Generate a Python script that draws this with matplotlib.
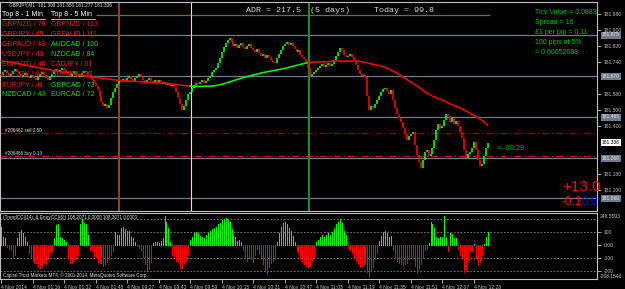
import matplotlib
matplotlib.use("Agg")
import matplotlib.pyplot as plt
import matplotlib.transforms as mtransforms
from matplotlib.lines import Line2D

W, H = 625, 289

# ---------------------------------------------------------------- data
# GBPJPY M1 closes, one per bar (16 bars per time label)
closes = [
    181.675, 181.690, 181.700, 181.685, 181.670, 181.680, 181.695, 181.705, 181.690, 181.680, 181.665, 181.675, 181.685, 181.670, 181.660, 181.675,
    181.670, 181.660, 181.650, 181.665, 181.680, 181.690, 181.675, 181.660, 181.650, 181.665, 181.680, 181.695, 181.705, 181.690, 181.700, 181.710,
    181.700, 181.690, 181.680, 181.670, 181.685, 181.695, 181.680, 181.665, 181.675, 181.685, 181.695, 181.690, 181.675, 181.660, 181.650, 181.635,
    181.620, 181.600, 181.570, 181.540, 181.520, 181.530, 181.510, 181.525, 181.560, 181.590, 181.610, 181.630, 181.650, 181.640, 181.655, 181.645,
    181.660, 181.670, 181.655, 181.645, 181.660, 181.670, 181.680, 181.665, 181.650, 181.640, 181.650, 181.660, 181.645, 181.635, 181.650, 181.640,
    181.650, 181.640, 181.630, 181.640, 181.625, 181.635, 181.620, 181.630, 181.615, 181.590, 181.560, 181.530, 181.500, 181.520, 181.550, 181.580,
    181.590, 181.610, 181.625, 181.635, 181.630, 181.640, 181.650, 181.635, 181.645, 181.660, 181.670, 181.690, 181.700, 181.710, 181.735, 181.760,
    181.790, 181.815, 181.835, 181.850, 181.860, 181.840, 181.820, 181.830, 181.810, 181.825, 181.835, 181.815, 181.805, 181.820, 181.830, 181.810,
    181.800, 181.790, 181.805, 181.785, 181.770, 181.780, 181.760, 181.775, 181.765, 181.750, 181.740, 181.735, 181.760, 181.780, 181.800, 181.820,
    181.830, 181.840, 181.825, 181.835, 181.820, 181.805, 181.790, 181.800, 181.775, 181.765, 181.755, 181.740, 181.710, 181.670, 181.680, 181.690,
    181.700, 181.710, 181.720, 181.730, 181.715, 181.725, 181.735, 181.720, 181.730, 181.750, 181.770, 181.790, 181.810, 181.800, 181.775, 181.765,
    181.770, 181.780, 181.765, 181.750, 181.725, 181.700, 181.680, 181.670, 181.675, 181.665, 181.570, 181.500, 181.520, 181.510, 181.530, 181.550,
    181.570, 181.590, 181.605, 181.610, 181.595, 181.580, 181.600, 181.550, 181.510, 181.480, 181.460, 181.440, 181.410, 181.380, 181.350, 181.370,
    181.380, 181.390, 181.325, 181.275, 181.240, 181.210, 181.250, 181.290, 181.300, 181.270, 181.280, 181.310, 181.350, 181.400, 181.430, 181.410,
    181.420, 181.450, 181.480, 181.470, 181.440, 181.460, 181.430, 181.445, 181.420, 181.390, 181.360, 181.300, 181.260, 181.280, 181.290, 181.310,
    181.340, 181.300, 181.250, 181.220, 181.230, 181.270, 181.310, 181.336,
]
first_open = 181.680

# moving average, read every 4 bars
ma_bars = list(range(0, 245, 4)) + [247]
ma_vals = [
    181.745, 181.740, 181.733, 181.725, 181.718, 181.710, 181.703, 181.695,
    181.688, 181.683, 181.675, 181.668, 181.663, 181.658, 181.653, 181.648,
    181.645, 181.643, 181.640, 181.638, 181.635, 181.633, 181.628, 181.623,
    181.620, 181.618, 181.619, 181.620, 181.628, 181.640, 181.653, 181.665,
    181.675, 181.685, 181.693, 181.700, 181.708, 181.718, 181.728, 181.738,
    181.740, 181.740, 181.743, 181.743, 181.745, 181.745, 181.740, 181.730,
    181.723, 181.710, 181.690, 181.665, 181.640, 181.615, 181.585, 181.565,
    181.550, 181.530, 181.515, 181.495, 181.473, 181.450, 181.423,
]
ma_green = (96, 156)

# TrendCCI histogram, one per bar
cci = [
    140, 60, 55, -15, -30, -35, -95, -75, 50, 100, 115, 90, 65, 20, -60, -90,
    -120, -135, -140, -170, -180, -165, -140, -145, -100, -60, -50, 50, 155, 165, 65, 50,
    40, 25, -100, -140, -130, -110, -105, -80, 165, 200, 170, 160, 80, -40, -45, -90,
    -95, -130, -140, -135, -160, -150, -130, -100, -80, -50, 100, 75, 80, 130, 140, 125,
    110, 105, 65, 55, 25, -10, -20, -40, -90, -150, -190, -185, -130, 15, 20, 25,
    15, 30, 50, 220, 180, 130, 25, -80, -90, -120, -130, -175, -180, -140, -120, -80,
    40, 65, 95, 100, 90, 70, 60, 50, 75, 90, 110, 120, 130, 140, 160, 170,
    190, 200, 210, 195, 180, 120, 70, 60, 30, 40, 20, -40, -90, -120, -100, -110,
    -130, -80, -30, -60, -90, -150, -200, -220, -170, -140, -120, -110, 20, 90, 140, 170,
    180, 165, 130, 110, 70, 20, -50, -60, -110, -130, -150, -165, -170, -160, -120, -90,
    20, 40, 60, 80, 60, 75, 90, 80, 100, 130, 160, 180, 200, 170, 110, 80,
    -20, -40, -60, -90, -120, -150, -170, -160, -150, -140, -210, -245, -200, -170, -110, -60,
    30, 70, 100, 110, 90, 60, 70, -40, -90, -120, -140, -150, -155, -150, -140, -110,
    -90, -100, -160, -210, -180, -150, -100, -40, -30, 12, 180, 165, 130, 60, 55, 60,
    65, 220, 50, -50, 90, 85, 55, 50, -25, -80, -100, -205, -195, -115, -50, -45,
    5, -100, -155, -130, -75, 5, 65, 100,
]

levels = [181.875, 181.670, 181.465, 181.260, 181.060]
orders = [181.385, 181.270]
order_labels = ["#206462 sell 0.50", "#206466 buy 0.13"]
adr_line = 181.975
session_bars = [60, 96.5, 156.3]
price_ticks = [181.100, 181.180, 181.420, 181.500,
               181.580, 181.740, 181.820, 181.900, 181.980]
cci_ticks = [100, 0, -100, -200]
cci_tick_labels = ["100", "0.00", "-100", "-200"]
time_ticks = list(range(0, 241, 16))
time_labels = ["4 Nov 2014", "4 Nov 01:16", "4 Nov 01:32", "4 Nov 01:48",
               "4 Nov 09:27", "4 Nov 09:43", "4 Nov 09:59", "4 Nov 10:15",
               "4 Nov 10:31", "4 Nov 10:47", "4 Nov 11:03", "4 Nov 11:19",
               "4 Nov 11:35", "4 Nov 11:51", "4 Nov 12:07", "4 Nov 12:23"]

top1_names = ["GBPNZD", "GBPJPY", "GBPAUD", "USDJPY", "EURNZD", "CHFJPY", "EURJPY", "NZDCAD"]
top1_vals = [76, 65, 49, 49, 48, 44, 41, 40]
top1_up = [False, False, False, False, False, False, False, True]
top5_names = ["GBPNZD", "GBPAUD", "AUDCAD", "NZDCAD", "CADJPY", "GBPJPY", "GBPCAD", "EURCAD"]
top5_vals = [113, 111, 100, 84, 81, 77, 73, 72]
top5_up = [False, False, True, True, False, False, True, True]

info_lines = ["Tick Value = 0.0883", "Spread = 16", "\u00a31 per pip = 0.11",
              "100 pips at 5%", "= 0.60652688"]

# ---------------------------------------------------------------- figure
SILVER = "#c0c0c0"
BULL = "#00ff00"
BEAR = "#ff0000"
plt.rcParams['font.family'] = ['Liberation Sans', 'DejaVu Sans']

fig = plt.figure(figsize=(W / 100, H / 100), dpi=100, facecolor="black")


def box(x0, y0, x1, y1):
    return [x0 / W, 1 - y1 / H, (x1 - x0) / W, (y1 - y0) / H]


def label(x, y, s, **kw):
    kw.setdefault("va", "center")
    kw.setdefault("ha", "left")
    fig.text(x / W, 1 - y / H, s, **kw)


ax = fig.add_axes(box(0, 2, 597, 211))
ax2 = fig.add_axes(box(0, 213, 597, 279), sharex=ax)
for a in (ax, ax2):
    a.set_facecolor("black")
    for sp in a.spines.values():
        sp.set_color(SILVER)
        sp.set_linewidth(0.8)

n = len(closes)
xs = list(range(n))
opens = [first_open] + closes[:-1]

# horizontal levels / order lines
for lv in levels:
    ax.axhline(lv, color="#6f7b8a", lw=0.9, zorder=1)
ax.axhline(orders[0], color="#8b0000", lw=1.0, ls=(0, (5, 2, 1, 2)), zorder=1)
ax.axhline(orders[1], color="#e00000", lw=1.0, ls=(0, (5, 2, 1, 2)), zorder=1)
ax.hlines(adr_line, 48, n, color="#1f9f1f", lw=0.9, zorder=1)

# session markers
ax.axvline(session_bars[0], color="#8b4a1c", lw=1.4, zorder=1)
ax.axvline(session_bars[1], color="#ffff00", lw=0.8, zorder=1)
ax.axvline(session_bars[2], color="#1f8f1f", lw=1.4, zorder=1)

# candles
lo = [min(o, c) for o, c in zip(opens, closes)]
hi = [max(o, c) + (0.003 if abs(o - c) < 0.003 else 0) for o, c in zip(opens, closes)]
cols = [BULL if c >= o else BEAR for o, c in zip(opens, closes)]
ax.vlines(xs, lo, hi, colors=cols, lw=1.2, zorder=3)

# moving average, green while in the up leg
for i in range(len(ma_bars) - 1):
    c = BULL if ma_green[0] <= ma_bars[i] < ma_green[1] else BEAR
    ax.plot(ma_bars[i:i + 2], ma_vals[i:i + 2], color=c, lw=1.1, zorder=4,
            solid_capstyle="round")

ax.set_xlim(-0.5, 302.5)
ax.set_ylim(180.995, 182.040)
ax.yaxis.tick_right()
ax.set_yticks(price_ticks)
ax.set_yticklabels([f"{p:.3f}" for p in price_ticks])
ax.tick_params(axis="y", colors=SILVER, labelsize=3.6, length=3, width=0.6, pad=2)
ax.tick_params(axis="x", bottom=False, labelbottom=False)

# price boxes on the right scale
tr = mtransforms.blended_transform_factory(ax.transAxes, ax.transData)
for lv in levels:
    ax.text(1.008, lv, f"{lv:.3f}", transform=tr, fontsize=3.6, color="#e8e8e8",
            va="center", ha="left", clip_on=False,
            bbox=dict(boxstyle="square,pad=0.2", fc="#6f7b8a", ec="none"))
ax.text(1.008, closes[-1], f"{closes[-1]:.3f}", transform=tr, fontsize=3.6,
        color="black", va="center", ha="left", clip_on=False,
        bbox=dict(boxstyle="square,pad=0.2", fc="white", ec="none"))

# CCI panel
ccols = [BULL if v >= 0 else BEAR for v in cci]
ax2.vlines(xs, 0, cci, colors=ccols, lw=0.72, antialiased=False, zorder=3)
for v in (200, 100, -100, -200):
    ax2.axhline(v, color="#8a8a8a", lw=0.6, ls=(0, (2, 2)), zorder=1)
ax2.set_ylim(-261.5, 246)
ax2.yaxis.tick_right()
ax2.set_yticks(cci_ticks)
ax2.set_yticklabels(cci_tick_labels)
ax2.tick_params(axis="y", colors=SILVER, labelsize=3.6, length=3, width=0.6, pad=2)
ax2.set_xticks(time_ticks)
ax2.set_xticklabels(time_labels)
ax2.tick_params(axis="x", colors=SILVER, labelsize=3.6, length=3, width=0.6,
                pad=1, direction="out")
for lab in ax2.get_xticklabels():
    lab.set_horizontalalignment("left")

# ---------------------------------------------------------------- texts
label(9, 5, "GBPJPY,M1  181.309 181.350 181.277 181.336", fontsize=3.4, color="#e0e0e0")
label(2, 15, "Top 8 - 1 Min", fontsize=5, color="white")
label(51, 15, "Top 8 - 5 Min", fontsize=5, color="white")
fig.add_artist(Line2D([2 / W, 45 / W], [1 - 19 / H] * 2, color="white", lw=0.5))
fig.add_artist(Line2D([51 / W, 95 / W], [1 - 19 / H] * 2, color="white", lw=0.5))
for k in range(8):
    y = 25 + 10 * k
    label(2, y, f"{top1_names[k]} / {top1_vals[k]}", fontsize=5,
          color="#00e000" if top1_up[k] else "#ff1010")
    label(51, y, f"{top5_names[k]} / {top5_vals[k]}", fontsize=5,
          color="#00e000" if top5_up[k] else "#ff1010")

label(246, 11, "ADR = 217.5", fontsize=6, color="#d8d8d8", family="Liberation Mono")
label(310, 11, "(5 days)", fontsize=6, color="#d8d8d8", family="Liberation Mono")
label(374, 11, "Today = 99.8", fontsize=6, color="#d8d8d8", family="Liberation Mono")

for k, s in enumerate(info_lines):
    label(535, 13 + 9.8 * k, s, fontsize=5, color="#00c800")

label(497, 148, "<--00:29", fontsize=5.5, color="#00b000")
label(5, 130, order_labels[0], fontsize=3.3, color="#e0e0e0")
label(5, 153, order_labels[1], fontsize=3.3, color="#e0e0e0")

label(562, 187, "+13.0", fontsize=11, color="#ff0000")
label(561, 202, "-0.1", fontsize=8.5, color="#ff0000")
label(582, 202, "0.0", fontsize=8.5, color="#0000ff")

label(3, 218, "(TrendCCI(14), & EntryCCI(6)) 108.2071 0.0000 108.2071 0.0000",
      fontsize=3.3, color="#e0e0e0")
label(3, 275, "Capital Trust Markets MT4, \u00a9 2001-2014, MetaQuotes Software Corp.",
      fontsize=3.3, color="#e0e0e0")
label(600, 217, "248.5593", fontsize=3.6, color=SILVER)
label(600, 277, "-268.1546", fontsize=3.6, color=SILVER)

fig.savefig("out.png", dpi=100, facecolor="black")
